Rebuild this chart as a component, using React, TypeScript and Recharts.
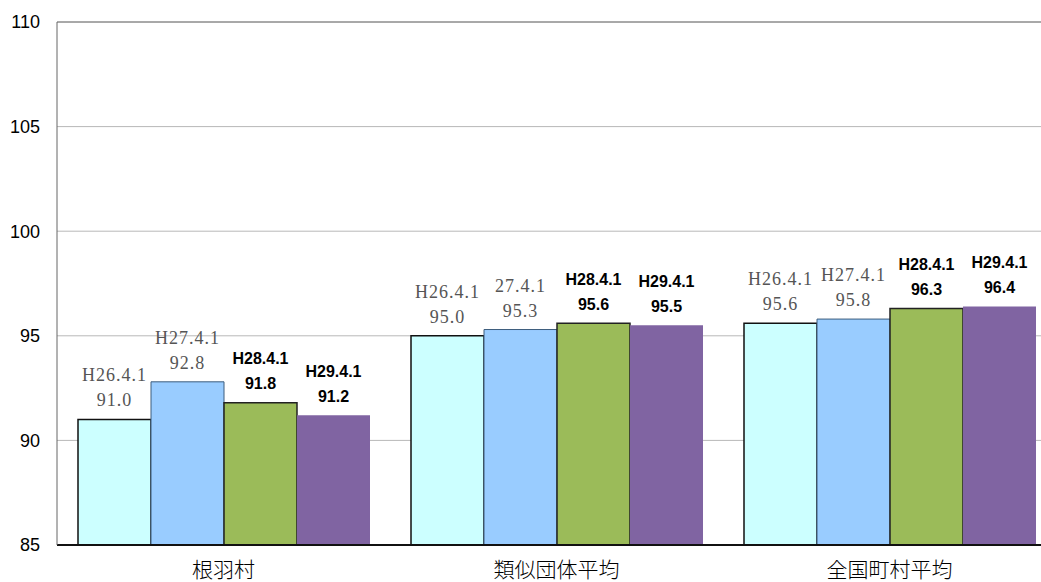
import React from 'react';
import { BarChart, Bar, XAxis, YAxis, CartesianGrid, LabelList, ReferenceLine } from 'recharts';

const categories = ['根羽村', '類似団体平均', '全国町村平均'];
const h26 = [91.0, 95.0, 95.6];
const h27 = [92.8, 95.3, 95.8];
const h28 = [91.8, 95.6, 96.3];
const h29 = [91.2, 95.5, 96.4];
const h26Labels = ['H26.4.1', 'H26.4.1', 'H26.4.1'];
const h27Labels = ['H27.4.1', '27.4.1', 'H27.4.1'];
const h28Labels = ['H28.4.1', 'H28.4.1', 'H28.4.1'];
const h29Labels = ['H29.4.1', 'H29.4.1', 'H29.4.1'];
const yTicks = [85, 90, 95, 100, 105, 110];

const data = categories.map((c, i) => ({ name: c, h26: h26[i], h27: h27[i], h28: h28[i], h29: h29[i] }));

const serifStyle = { fontFamily: '"Liberation Serif", "DejaVu Serif", serif', fontSize: 18, fill: '#555', letterSpacing: 1 };
const sansStyle = { fontFamily: '"Liberation Sans", Arial, sans-serif', fontSize: 16, fill: '#000', fontWeight: 600 };

const makeLabel = (dates: string[], style: any) => (props: any) => {
  const { x, y, width, value, index } = props;
  const cx = x + width / 2;
  return (
    <g>
      <text x={cx} y={y - 44} textAnchor="middle" dominantBaseline="central" style={style}>{dates[index]}</text>
      <text x={cx} y={y - 19} textAnchor="middle" dominantBaseline="central" style={style}>{Number(value).toFixed(1)}</text>
    </g>
  );
};

const XTick = (props: any) => {
  const { x, payload } = props;
  return (
    <text x={x} y={577} textAnchor="middle" style={{ fontFamily: '"Noto Sans CJK JP", sans-serif', fontSize: 21, fill: '#000', fontWeight: 300 }}>
      {payload.value}
    </text>
  );
};

export default function App() {
  return (
    <div style={{ position: 'fixed', left: 0, top: 0, width: 1041, height: 582, overflow: 'hidden', background: '#fff' }}>
      <BarChart
        width={1070}
        height={582}
        data={data}
        margin={{ top: 22, right: 14, left: 0, bottom: 0 }}
        barGap={0}
        barCategoryGap={21}
      >
        <CartesianGrid horizontal vertical={false} stroke="#b8b8b8" />
        <XAxis dataKey="name" height={37} tickLine={false} axisLine={{ stroke: '#111', strokeWidth: 2 }} tick={<XTick />} interval={0} />
        <YAxis
          width={57}
          domain={[85, 110]}
          ticks={yTicks}
          allowDataOverflow
          tickLine={false}
          tickSize={0}
          tickMargin={17}
          axisLine={{ stroke: '#666', strokeWidth: 1 }}
          tick={{ fontFamily: '"Liberation Sans", Arial, sans-serif', fontSize: 18, fill: '#000' }}
        />
        <ReferenceLine y={110} stroke="#777" />
        <Bar dataKey="h26" fill="#CCFFFF" stroke="#111" strokeWidth={1.5} isAnimationActive={false}>
          <LabelList dataKey="h26" content={makeLabel(h26Labels, serifStyle)} />
        </Bar>
        <Bar dataKey="h27" fill="#99CCFF" stroke="#3d5d7d" strokeWidth={1} isAnimationActive={false}>
          <LabelList dataKey="h27" content={makeLabel(h27Labels, serifStyle)} />
        </Bar>
        <Bar dataKey="h28" fill="#9BBB59" stroke="#222" strokeWidth={1.5} isAnimationActive={false}>
          <LabelList dataKey="h28" content={makeLabel(h28Labels, sansStyle)} />
        </Bar>
        <Bar dataKey="h29" fill="#8064A2" isAnimationActive={false}>
          <LabelList dataKey="h29" content={makeLabel(h29Labels, sansStyle)} />
        </Bar>
      </BarChart>
    </div>
  );
}
